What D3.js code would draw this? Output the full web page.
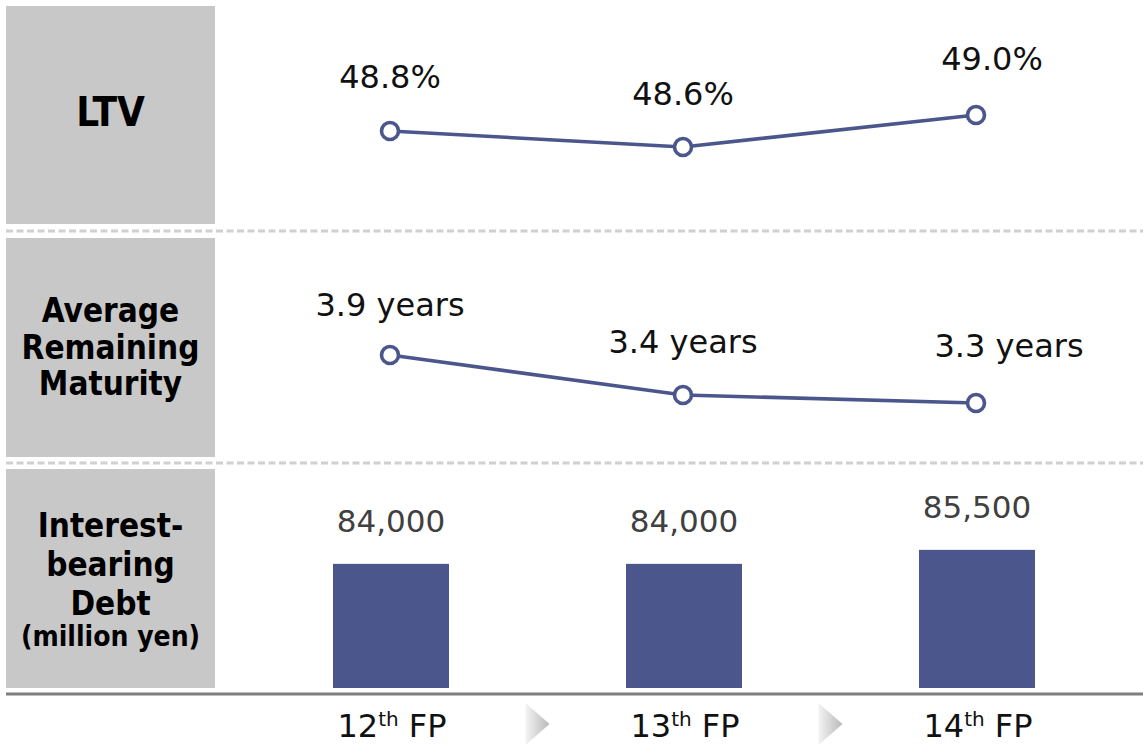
<!DOCTYPE html>
<html>
<head>
<meta charset="utf-8">
<script src="https://cdn.jsdelivr.net/npm/d3@7"></script>
<style>
  html, body { margin: 0; padding: 0; background: #fff; }
  svg { display: block; }
  .val { font-family: "DejaVu Sans", Verdana, sans-serif; }
  .row { font-family: "DejaVu Sans Condensed", "DejaVu Sans", sans-serif; font-weight: bold; font-stretch: condensed; }
</style>
</head>
<body>
<svg id="chart" width="1143" height="744"></svg>
<script>
// Fiscal periods
const periods = ["12", "13", "14"];
const periodSuffix = "th";
const periodUnit = "FP";

// LTV (%)
const ltv = [48.8, 48.6, 49.0];
// Average remaining maturity (years)
const maturity = [3.9, 3.4, 3.3];
// Interest-bearing debt (million yen)
const debt = [84000, 84000, 85500];

// Row headings
const rowLabels = [
  ["LTV"],
  ["Average", "Remaining", "Maturity"],
  ["Interest-", "bearing", "Debt", "(million yen)"]
];

const W = 1143, H = 744;
const navy = "#4b578c";
const svg = d3.select("#chart");

const x = d3.scalePoint().domain(periods).range([390, 976]);

// Row bands
const rows = [
  { top: 6, bottom: 224 },
  { top: 238, bottom: 457 },
  { top: 469, bottom: 688 }
];

// grey heading boxes
svg.selectAll("rect.head").data(rows).join("rect")
  .attr("class", "head")
  .attr("x", 6).attr("y", d => d.top)
  .attr("width", 209).attr("height", d => d.bottom - d.top)
  .attr("fill", "#c8c8c8");

// dashed separators
svg.selectAll("line.sep").data([231, 463]).join("line")
  .attr("class", "sep")
  .attr("x1", 6).attr("x2", W).attr("y1", d => d).attr("y2", d => d)
  .attr("stroke", "#d0d0d0").attr("stroke-width", 3)
  .attr("stroke-dasharray", "7,3.5");

// heading text
const headLayout = [
  { baselines: [126], sizes: [40] },
  { baselines: [322, 359, 395], sizes: [33, 33, 33] },
  { baselines: [537, 576, 615, 646], sizes: [33, 33, 33, 28] }
];
rowLabels.forEach((lines, i) => {
  lines.forEach((t, j) => {
    svg.append("text").attr("class", "row")
      .attr("x", 110.5).attr("y", headLayout[i].baselines[j])
      .attr("text-anchor", "middle")
      .attr("font-size", headLayout[i].sizes[j])
      .attr("fill", "#000")
      .text(t);
  });
});

// ---- line rows ----
const yLtv = d3.scaleLinear().domain([48.2, 49.4]).range([179, 83]);
const yMat = d3.scaleLinear().domain([3.0, 4.0]).range([427, 347]);

function lineRow(values, y, fmt, lastShift, lift) {
  const pts = values.map((v, i) => ({ p: periods[i], v, i }));
  svg.append("path").datum(pts)
    .attr("d", d3.line().x(d => x(d.p)).y(d => y(d.v)))
    .attr("fill", "none").attr("stroke", navy).attr("stroke-width", 3.6);
  svg.selectAll(null).data(pts).join("circle")
    .attr("cx", d => x(d.p)).attr("cy", d => y(d.v)).attr("r", 8.5)
    .attr("fill", "#fff").attr("stroke", navy).attr("stroke-width", 3.6);
  svg.selectAll(null).data(pts).join("text")
    .attr("class", "val")
    .attr("x", d => x(d.p) + (d.i === pts.length - 1 ? lastShift : 0))
    .attr("y", d => y(d.v) - lift[d.i])
    .attr("text-anchor", "middle").attr("font-size", 32).attr("fill", "#111")
    .text(d => fmt(d.v));
}
lineRow(ltv, yLtv, v => d3.format(".1f")(v) + "%", 16, [43, 42, 45]);
lineRow(maturity, yMat, v => d3.format(".1f")(v) + " years", 33, [39, 42, 46]);

// ---- bar row ----
const yDebt = d3.scaleLinear().domain([70700, 91100]).range([688, 497.6]);
const barW = 116;
const bars = debt.map((v, i) => ({ p: periods[i], v }));
svg.selectAll("rect.bar").data(bars).join("rect")
  .attr("class", "bar")
  .attr("x", d => x(d.p) - barW / 2 + 1)
  .attr("y", d => yDebt(d.v))
  .attr("width", barW)
  .attr("height", d => yDebt.range()[0] - yDebt(d.v))
  .attr("fill", navy);
svg.selectAll("text.barval").data(bars).join("text")
  .attr("class", "val barval")
  .attr("x", d => x(d.p) + 1)
  .attr("y", d => yDebt(d.v) - 32)
  .attr("text-anchor", "middle").attr("font-size", 31).attr("fill", "#404040")
  .text(d => d3.format(",")(d.v));

// baseline
svg.append("line")
  .attr("x1", 6).attr("x2", W).attr("y1", 694).attr("y2", 694)
  .attr("stroke", "#7f7f7f").attr("stroke-width", 3);

// chevrons between periods
const defs = svg.append("defs");
const grad = defs.append("linearGradient").attr("id", "chev")
  .attr("x1", "0%").attr("x2", "100%").attr("y1", "0%").attr("y2", "0%");
grad.append("stop").attr("offset", "0%").attr("stop-color", "#f4f4f4");
grad.append("stop").attr("offset", "100%").attr("stop-color", "#b8b8b8");
const mids = d3.pairs(periods).map(([a, b]) => (x(a) + x(b)) / 2);
svg.selectAll("path.chev").data(mids).join("path")
  .attr("class", "chev")
  .attr("d", m => `M${m - 11},703 L${m + 13},724 L${m - 11},745 Z`)
  .attr("fill", "url(#chev)");

// period labels
const xl = svg.selectAll("text.period").data(periods).join("text")
  .attr("class", "val period")
  .attr("x", d => x(d) + 2).attr("y", 737)
  .attr("text-anchor", "middle").attr("font-size", 32).attr("fill", "#111");
xl.append("tspan").text(d => d);
xl.append("tspan").attr("font-size", 20).attr("dy", -11).text(periodSuffix);
xl.append("tspan").attr("dy", 11).text(" " + periodUnit);
</script>
</body>
</html>
